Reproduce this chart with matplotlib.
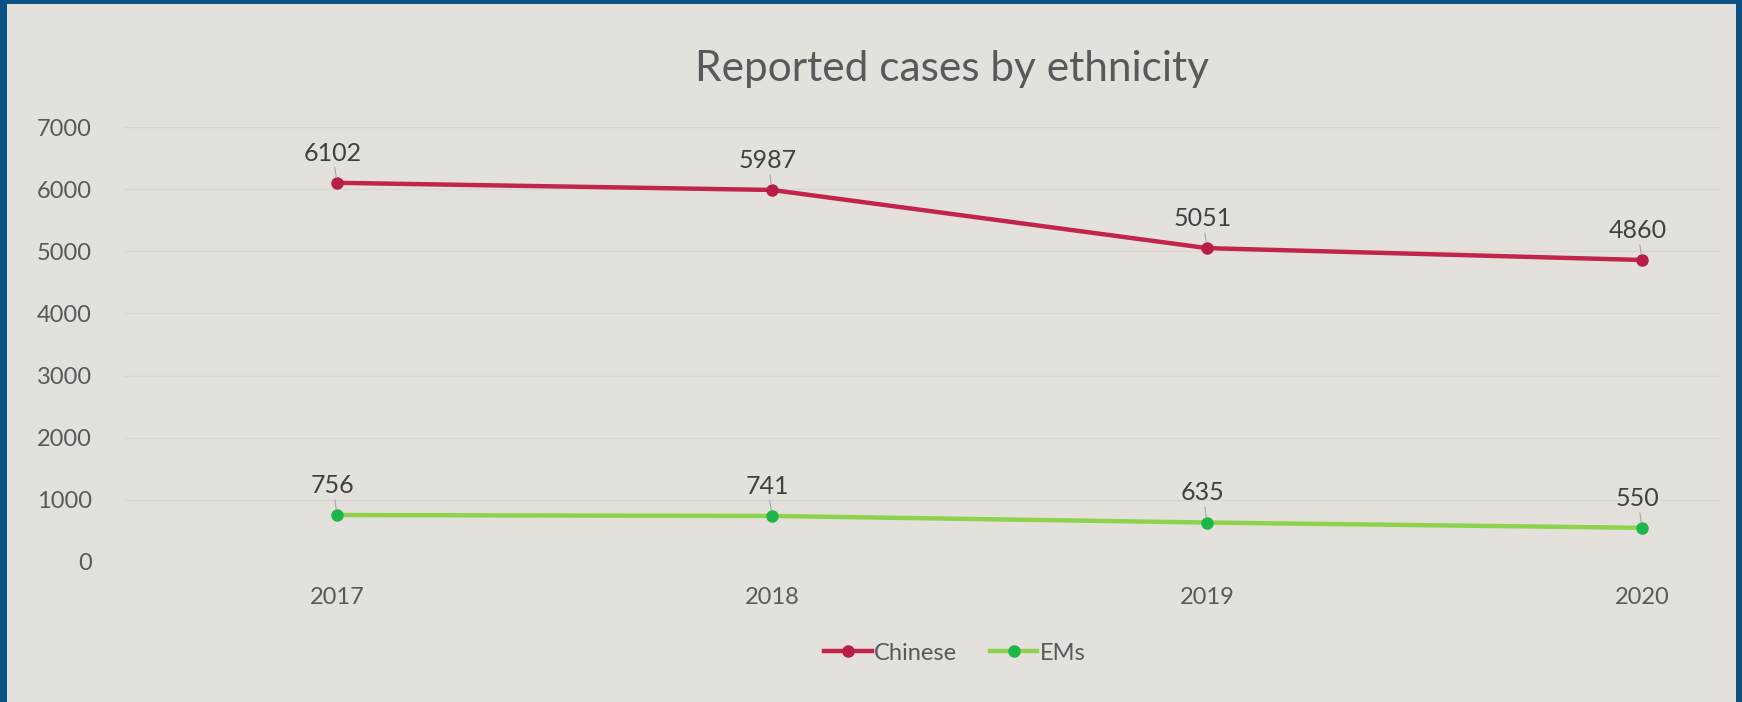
import matplotlib.pyplot as plt
from matplotlib.patches import Rectangle

plt.rcParams['font.family'] = ['Lato', 'DejaVu Sans']

# -- Data
years = [2017, 2018, 2019, 2020]
chinese = [6102, 5987, 5051, 4860]
ems = [756, 741, 635, 550]
yticks = [0, 1000, 2000, 3000, 4000, 5000, 6000, 7000]

BLUE = '#0B5282'
BG = '#E4E1DC'
RED_LINE = '#C2244C'
RED_MARK = '#B81E45'
GREEN_LINE = '#8FD24E'
GREEN_MARK = '#1EB64A'
TEXT = '#404040'
TICK = '#595959'

fig = plt.figure(figsize=(17.42, 7.02), dpi=100)
fig.patch.set_facecolor(BLUE)
# inner slide background (blue frame left / top / right)
fig.patches.append(Rectangle((7 / 1742, 0), (1736 - 7) / 1742, (702 - 4) / 702,
                             transform=fig.transFigure, facecolor=BG, edgecolor='none', zorder=-10))

ax = fig.add_axes([125 / 1742, (702 - 562) / 702, (1720 - 125) / 1742, (562 - 127) / 702])
ax.set_facecolor('none')

# category positions: 2017 -> px 337, 2020 -> px 1642
step = (1642 - 337) / 3
ax.set_xlim(years[0] - (337 - 125) / step, years[-1] + (1720 - 1642) / step)
ax.set_ylim(0, 7000)

ax.plot(years, chinese, color=RED_LINE, linewidth=3.2, marker='o', markersize=8,
        markerfacecolor=RED_MARK, markeredgecolor=RED_MARK, label='Chinese', zorder=3)
ax.plot(years, ems, color=GREEN_LINE, linewidth=3.2, marker='o', markersize=8,
        markerfacecolor=GREEN_MARK, markeredgecolor=GREEN_MARK, label='EMs', zorder=3)

# data labels with small leader lines
for series in (chinese, ems):
    for x, y in zip(years, series):
        ax.annotate(str(y), xy=(x, y), xytext=(-3, 13), textcoords='offset points',
                    ha='center', va='bottom', fontsize=18, color=TEXT,
                    arrowprops=dict(arrowstyle='-', color='#A6A6A6', lw=0.8,
                                    shrinkA=0, shrinkB=4))

ax.set_yticks(yticks)
ax.set_yticklabels([str(t) for t in yticks])
ax.set_xticks(years)
ax.set_xticklabels([str(y) for y in years])
ax.tick_params(axis='y', length=0, pad=24, labelsize=17, labelcolor=TICK)
ax.tick_params(axis='x', length=0, pad=18, labelsize=17, labelcolor=TICK)
ax.grid(axis='y', color='#D9D6D1', linewidth=1)
ax.grid(axis='x', visible=False)
for s in ax.spines.values():
    s.set_visible(False)

fig.text(952 / 1742, 1 - 69 / 702, 'Reported cases by ethnicity', ha='center', va='center',
         fontsize=30.5, color='#595959')

ax.legend(loc='center', bbox_to_anchor=((955 - 125) / (1720 - 125), -(653 - 562) / (562 - 127)),
          ncol=2, frameon=False, fontsize=17, labelcolor=TICK, handlelength=2.0,
          handletextpad=0.1, columnspacing=1.4)

fig.savefig('out.png', dpi=100, facecolor=fig.get_facecolor())
